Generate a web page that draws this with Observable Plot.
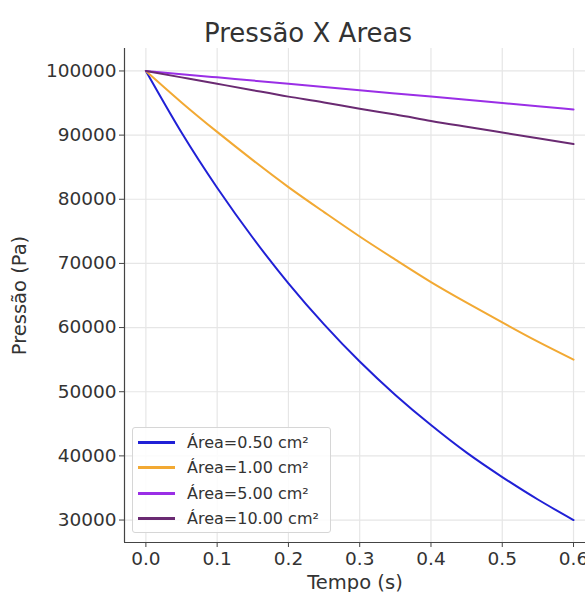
<!DOCTYPE html>
<html>
<head>
<meta charset="utf-8">
<script src="https://cdn.jsdelivr.net/npm/d3@7"></script>
<script src="https://cdn.jsdelivr.net/npm/@observablehq/plot@0.6"></script>
<style>
  html, body { margin: 0; padding: 0; background: #fff; overflow: hidden; }
  #wrap { position: relative; width: 585px; height: 592px; font-family: "DejaVu Sans", sans-serif; }
  #title { position: absolute; left: 0; width: 616px; top: 18px; text-align: center; font-size: 26px; color: #333; line-height: 30px; }
  #legend { position: absolute; left: 132px; top: 427px; width: 199px; height: 106px; border: 1px solid #d6d6d6; border-radius: 3px; background: rgba(255,255,255,0.85); box-sizing: border-box; }
  .row { position: absolute; left: 0; height: 20px; display: flex; align-items: center; }
  .sw { width: 37px; height: 3px; margin-left: 5px; margin-right: 12px; }
  .lab { font-size: 16px; color: #333; white-space: nowrap; }
</style>
</head>
<body>
<div id="wrap">
  <div id="chart"></div>
  <div id="title">Pressão X Areas</div>
  <div id="legend"></div>
</div>
<script>
const tempo = [0, 0.05, 0.1, 0.15, 0.2, 0.25, 0.3, 0.35, 0.4, 0.45, 0.5, 0.55, 0.6];
const area050 = [100000, 90400, 81800, 74000, 66900, 60500, 54700, 49500, 44800, 40500, 36700, 33200, 30000];
const area100 = [100000, 95100, 90500, 86100, 81900, 78000, 74200, 70600, 67100, 63900, 60800, 57800, 55000];
const area500 = [100000, 99500, 99000, 98500, 98000, 97500, 97000, 96500, 96000, 95500, 95000, 94500, 94000];
const area1000 = [100000, 99000, 98000, 97000, 96000, 95100, 94100, 93200, 92200, 91300, 90400, 89500, 88600];
const seriesNames = ["Área=0.50 cm²", "Área=1.00 cm²", "Área=5.00 cm²", "Área=10.00 cm²"];
const seriesColors = ["#2020d6", "#f2a933", "#9a2ee6", "#6a2a72"];
const xTicks = [0, 0.1, 0.2, 0.3, 0.4, 0.5, 0.6];
const yTicks = [30000, 40000, 50000, 60000, 70000, 80000, 90000, 100000];

const allSeries = [area050, area100, area500, area1000];
const rows = [];
allSeries.forEach((vals, i) => vals.forEach((v, j) => rows.push({t: tempo[j], p: v, s: seriesNames[i]})));

const xDom = [-0.03, 0.6168];
const yDom = [26500, 103500];

const chart = Plot.plot({
  width: 585,
  height: 592,
  marginLeft: 124,
  marginRight: 0,
  marginTop: 48,
  marginBottom: 50,
  style: {fontFamily: "DejaVu Sans, sans-serif", fontSize: "18.5px", color: "#333", background: "#fff"},
  x: {domain: xDom},
  y: {domain: yDom},
  color: {domain: seriesNames, range: seriesColors},
  marks: [
    Plot.gridX(xTicks, {stroke: "#e6e6e6", strokeOpacity: 1, strokeWidth: 1.2}),
    Plot.gridY(yTicks, {stroke: "#e6e6e6", strokeOpacity: 1, strokeWidth: 1.2}),
    Plot.axisX(xTicks, {tickSize: 5, tickPadding: 4, tickFormat: d3.format(".1f"), stroke: "#444", label: "Tempo (s)", labelArrow: "none", labelAnchor: "center", labelOffset: 46, fontSize: 18.5}),
    Plot.axisY(yTicks, {tickSize: 5, tickPadding: 3, tickFormat: d => String(d), stroke: "#444", label: "Pressão (Pa)", labelArrow: "none", labelAnchor: "center", labelOffset: 112, fontSize: 18.5}),
    Plot.ruleX([xDom[0]], {stroke: "#444", strokeWidth: 1.2}),
    Plot.ruleY([yDom[0]], {stroke: "#444", strokeWidth: 1.2}),
    Plot.line(rows, {x: "t", y: "p", z: "s", stroke: "s", strokeWidth: 2, curve: "natural"})
  ]
});
document.getElementById("chart").appendChild(chart);
chart.querySelectorAll("g[aria-label='x-axis label'] text, g[aria-label='y-axis label'] text").forEach(t => t.style.fontSize = "19.5px");

const legend = document.getElementById("legend");
seriesNames.forEach((n, i) => {
  const r = document.createElement("div");
  r.className = "row";
  r.style.top = (4 + i * 25.6) + "px";
  r.innerHTML = `<div class="sw" style="background:${seriesColors[i]}"></div><div class="lab">${n}</div>`;
  legend.appendChild(r);
});
</script>
</body>
</html>
